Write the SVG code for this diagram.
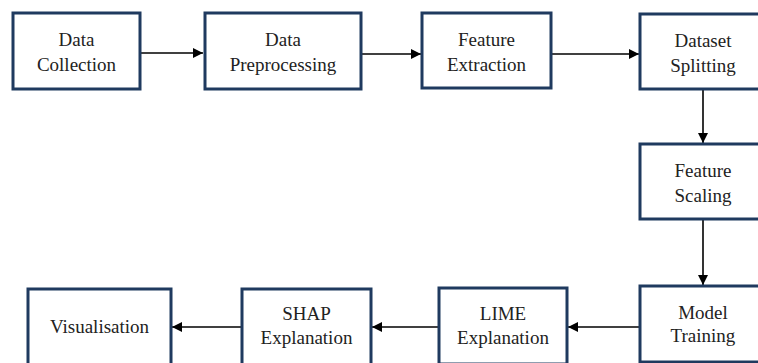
<svg xmlns="http://www.w3.org/2000/svg" width="758" height="363" viewBox="0 0 758 363">
<style>
.box{fill:#fff;stroke:#1f3a5f;stroke-width:3}
.c{stroke:#000;stroke-width:1.6;fill:none}
</style>
<defs>
<marker id="ah" viewBox="0 0 10 10" refX="10" refY="5" markerWidth="10" markerHeight="10" markerUnits="userSpaceOnUse" orient="auto">
<path d="M0,0 L10,5 L0,10 z" fill="#000"/>
</marker>
</defs>
<rect width="758" height="363" fill="#fff"/>
<g id="connectors">
<line class="c" x1="141" y1="53" x2="203" y2="53" marker-end="url(#ah)"/>
<line class="c" x1="362" y1="54" x2="421" y2="54" marker-end="url(#ah)"/>
<line class="c" x1="552" y1="54" x2="639" y2="54" marker-end="url(#ah)"/>
<line class="c" x1="703" y1="90" x2="703" y2="143" marker-end="url(#ah)"/>
<line class="c" x1="703" y1="220" x2="703" y2="285" marker-end="url(#ah)"/>
<line class="c" x1="639" y1="327" x2="568" y2="327" marker-end="url(#ah)"/>
<line class="c" x1="438" y1="327" x2="372" y2="327" marker-end="url(#ah)"/>
<line class="c" x1="241" y1="327" x2="172" y2="327" marker-end="url(#ah)"/>
</g>
<g font-family="Liberation Serif, serif" font-size="19" fill="#222" text-anchor="middle">
<g id="n1"><rect class="box" x="13" y="13" width="127" height="76"/><text x="76.5" y="46">Data</text><text x="76.5" y="71">Collection</text></g>
<g id="n2"><rect class="box" x="205" y="13" width="156" height="76"/><text x="283" y="46">Data</text><text x="283" y="71">Preprocessing</text></g>
<g id="n3"><rect class="box" x="422" y="13" width="129" height="75"/><text x="486.5" y="46">Feature</text><text x="486.5" y="71">Extraction</text></g>
<g id="n4"><rect class="box" x="640" y="14" width="127" height="75"/><text x="703" y="47">Dataset</text><text x="703" y="72">Splitting</text></g>
<g id="n5"><rect class="box" x="640" y="144" width="127" height="75"/><text x="703" y="177">Feature</text><text x="703" y="202">Scaling</text></g>
<g id="n6"><rect class="box" x="640" y="286" width="127" height="76"/><text x="703" y="319">Model</text><text x="703" y="342">Training</text></g>
<g id="n7"><rect class="box" x="439" y="288" width="128" height="76"/><text x="503" y="320">LIME</text><text x="503" y="344">Explanation</text></g>
<g id="n8"><rect class="box" x="242" y="289" width="129" height="76"/><text x="306.5" y="320">SHAP</text><text x="306.5" y="344">Explanation</text></g>
<g id="n9"><rect class="box" x="28" y="289" width="143" height="76"/><text x="99.5" y="333">Visualisation</text></g>
</g>
</svg>
